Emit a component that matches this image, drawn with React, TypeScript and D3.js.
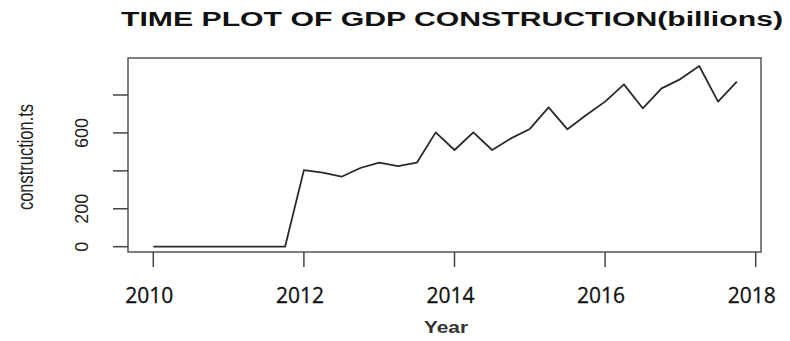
import React from "react";
import * as d3 from "d3";

// Quarterly GDP construction values (billions), 2010 Q1 .. 2017 Q4
const startYear = 2010;
const frequency = 4;
const constructionValues: number[] = [
  0, 0, 0, 0,
  0, 0, 0, 0,
  404, 391, 369, 415,
  443, 425, 443, 603,
  510, 603, 510, 571,
  621, 735, 619, 695,
  765, 856, 730, 835,
  884, 953, 765, 870,
];
const xTickValues = [2010, 2012, 2014, 2016, 2018];
const yTickValues = [0, 200, 400, 600, 800];
const yTickLabels = ["0", "200", "", "600", ""];
const titleText = "TIME PLOT OF GDP CONSTRUCTION(billions)";
const xAxisTitle = "Year";
const yAxisTitle = "construction.ts";

const W = 790;
const H = 341;
const box = { left: 128, right: 761, top: 58, bottom: 252 };

export default function App() {
  const x = d3.scaleLinear().domain([2010, 2018]).range([153.3, 755.7]);
  const y = d3.scaleLinear().domain([0, 800]).range([246.7, 95]);

  const data = constructionValues.map((v, i) => ({ t: startYear + i / frequency, v }));
  const line = d3
    .line<{ t: number; v: number }>()
    .x((d) => x(d.t))
    .y((d) => y(d.v));

  const ink = "#111";
  return (
    <svg
      width={W}
      height={H}
      style={{ position: "absolute", left: 0, top: 0, background: "#fff" }}
    >
      <rect x={0} y={0} width={W} height={H} fill="#fff" />
      <text
        x={452}
        y={26}
        textAnchor="middle"
        fontFamily="'Liberation Sans', Arial, sans-serif"
        fontWeight="bold"
        fontSize={20}
        textLength={662}
        lengthAdjust="spacingAndGlyphs"
        fill="#111"
      >
        {titleText}
      </text>

      <rect
        x={box.left}
        y={box.top}
        width={box.right - box.left}
        height={box.bottom - box.top}
        fill="none"
        stroke="#555"
        strokeWidth={1.5}
      />

      <path d={line(data) || ""} fill="none" stroke="#2a2a2a" strokeWidth={1.8} strokeLinejoin="round" />

      {/* y axis */}
      {yTickValues.map((v, i) => (
        <g key={"y" + v}>
          <line x1={113} x2={box.left} y1={y(v)} y2={y(v)} stroke="#444" strokeWidth={1.5} />
          {yTickLabels[i] && (
            <text
              transform={`translate(88,${y(v)}) rotate(-90)`}
              textAnchor="middle"
              fontFamily="'Liberation Sans', Arial, sans-serif"
              fontSize={18}
              fill="#222"
            >
              {yTickLabels[i]}
            </text>
          )}
        </g>
      ))}
      <text
        transform={`translate(33,157) rotate(-90)`}
        textAnchor="middle"
        fontFamily="'Liberation Sans', Arial, sans-serif"
        fontSize={22}
        textLength={106}
        lengthAdjust="spacingAndGlyphs"
        fill="#222"
      >
        {yAxisTitle}
      </text>

      {/* x axis */}
      {xTickValues.map((v) => (
        <g key={"x" + v}>
          <line x1={x(v)} x2={x(v)} y1={box.bottom} y2={267} stroke="#444" strokeWidth={1.5} />
          <text
            x={x(v) - 4}
            y={303}
            textAnchor="middle"
            fontFamily="'Open Sans', sans-serif"
            fontSize={21}
            stroke={ink}
            strokeWidth={0.3}
            fill={ink}
          >
            {String(v)}
          </text>
        </g>
      ))}
      <text
        x={446}
        y={333}
        textAnchor="middle"
        fontFamily="'Liberation Sans', Arial, sans-serif"
        fontWeight="bold"
        fontSize={17}
        textLength={44}
        lengthAdjust="spacingAndGlyphs"
        fill="#333"
      >
        {xAxisTitle}
      </text>
    </svg>
  );
}
